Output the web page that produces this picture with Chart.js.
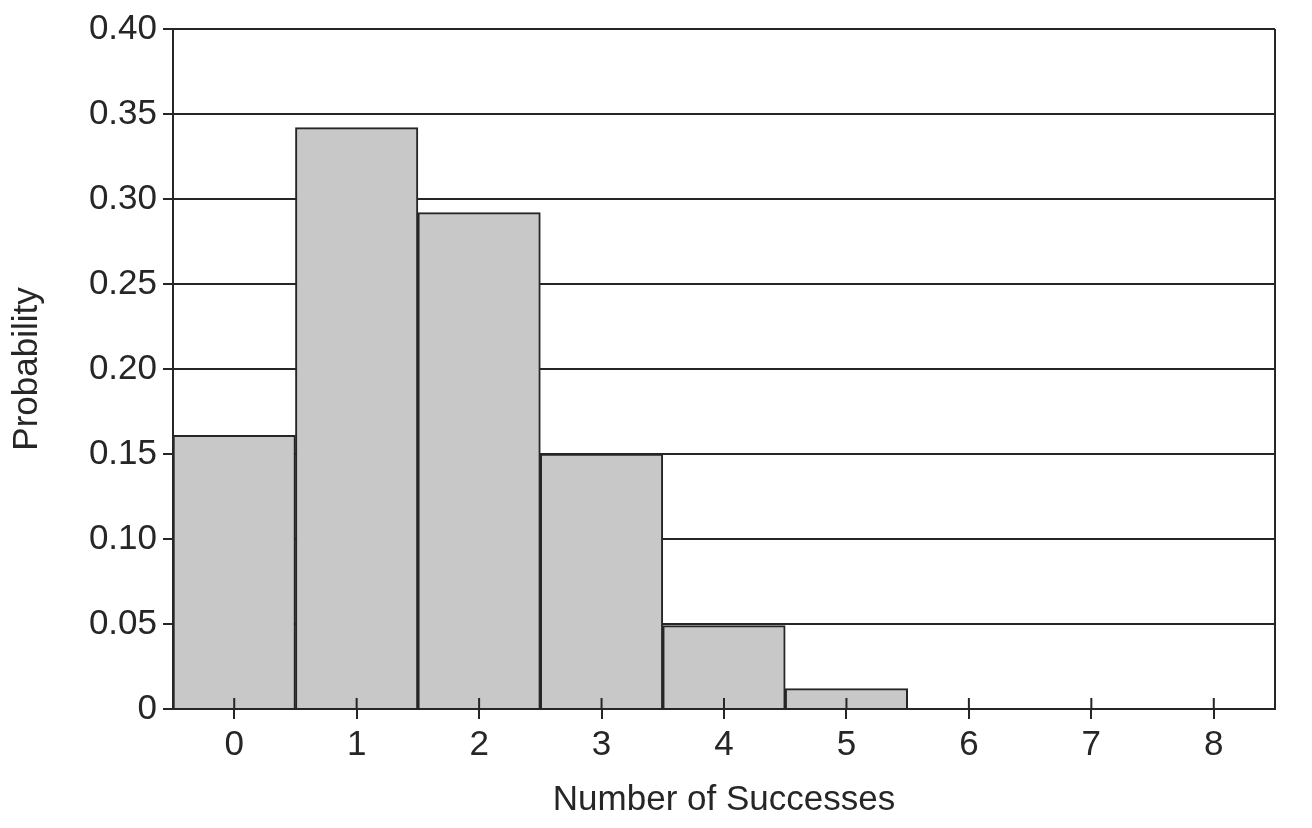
<!DOCTYPE html>
<html>
<head>
<meta charset="utf-8">
<script src="https://cdn.jsdelivr.net/npm/chart.js@4.4.1/dist/chart.umd.min.js"></script>
<style>
  html, body { margin: 0; padding: 0; background: #fff; }
  #wrap { width: 1312px; height: 828px; }
</style>
</head>
<body>
<div id="wrap"><canvas id="chart" width="1312" height="828"></canvas></div>
<script>
const successes = ["0", "1", "2", "3", "4", "5", "6", "7", "8"];
const probability = [0.161, 0.342, 0.292, 0.150, 0.049, 0.012, 0, 0, 0];
const yTicks = [0, 0.05, 0.10, 0.15, 0.20, 0.25, 0.30, 0.35, 0.40];

const ink = "#262626";
const font = { family: "'Liberation Sans', Arial, Helvetica, sans-serif", size: 35 };

// right border of the plot and the upper half of the x tick marks
const framePlugin = {
  id: "frame",
  afterDraw(chart) {
    const { ctx, chartArea, scales } = chart;
    ctx.save();
    ctx.strokeStyle = ink;
    ctx.lineWidth = 2;
    ctx.beginPath();
    ctx.moveTo(chartArea.right, chartArea.top);
    ctx.lineTo(chartArea.right, chartArea.bottom);
    scales.x.ticks.forEach((t, i) => {
      const x = scales.x.getPixelForTick(i);
      ctx.moveTo(x, chartArea.bottom);
      ctx.lineTo(x, chartArea.bottom - 11);
    });
    ctx.stroke();
    ctx.restore();
  }
};

const ctx = document.getElementById("chart");
new Chart(ctx, {
  type: "bar",
  data: {
    labels: successes,
    datasets: [
      {
        label: "Probability",
        data: probability,
        backgroundColor: "#c8c8c8",
        borderColor: ink,
        borderWidth: 2,
        barPercentage: 1,
        categoryPercentage: 1,
      },
    ],
  },
  options: {
    responsive: false,
    animation: false,
    layout: { padding: { top: 29, right: 37, left: 4, bottom: 4 } },
    plugins: {
      legend: { display: false },
      tooltip: { enabled: false },
    },
    scales: {
      x: {
        afterFit: (scale) => { scale.height = 115; },
        grid: {
          offset: false,
          drawOnChartArea: false,
          color: ink,
          lineWidth: 2,
          tickLength: 10,
        },
        border: { color: ink, width: 2 },
        ticks: { color: ink, font: font, padding: 5 },
        title: {
          display: true,
          text: "Number of Successes",
          color: ink,
          font: font,
          padding: { top: 0, bottom: 3 },
        },
      },
      y: {
        min: 0,
        max: 0.4,
        afterFit: (scale) => { scale.width = 169; },
        afterBuildTicks: (scale) => {
          scale.ticks = yTicks.map((v) => ({ value: v }));
        },
        grid: {
          color: ink,
          lineWidth: 2,
          tickLength: 10,
        },
        border: { color: ink, width: 2 },
        ticks: {
          color: ink,
          font: font,
          padding: 6,
          callback: (v) => (v === 0 ? "0" : v.toFixed(2)),
        },
        title: {
          display: true,
          text: "Probability",
          color: ink,
          font: font,
          padding: { top: 2, bottom: 0 },
        },
      },
    },
  },
  plugins: [framePlugin],
});
</script>
</body>
</html>
